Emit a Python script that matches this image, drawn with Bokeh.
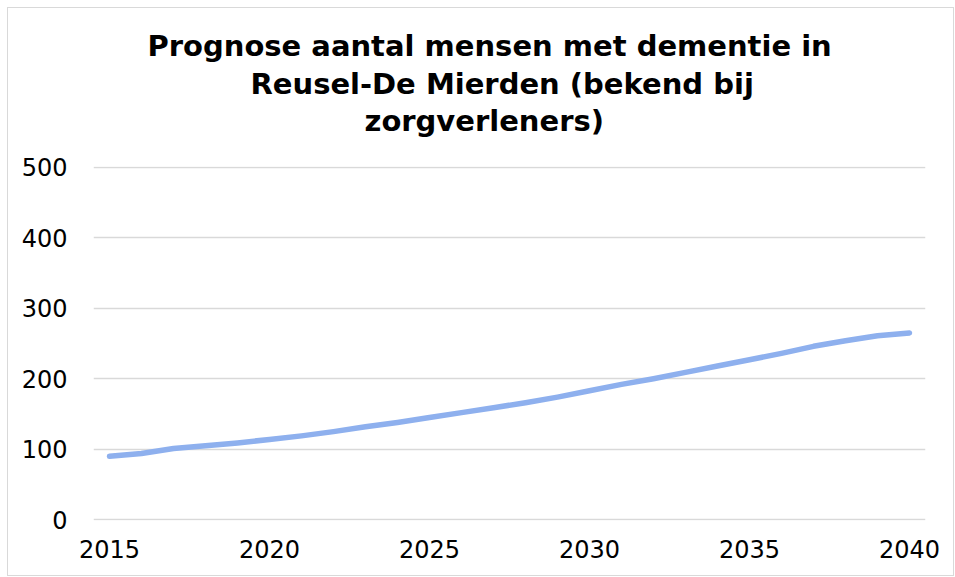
from bokeh.plotting import figure
from bokeh.models import Range1d, FixedTicker, Title, ColumnDataSource
from bokeh.embed import file_html
from bokeh.resources import INLINE

# Data
years = list(range(2015, 2041))
dementia = [90, 94, 101, 105, 109, 114, 119, 125, 132, 138,
            145, 152, 159, 166, 174, 183, 192, 200, 209, 218,
            227, 236, 246, 254, 261, 265]
x_ticks = [2015, 2020, 2025, 2030, 2035, 2040]
y_ticks = [0, 100, 200, 300, 400, 500]
title_lines = ["Prognose aantal mensen met dementie in",
               "Reusel-De Mierden (bekend bij",
               "zorgverleners)"]

source = ColumnDataSource(dict(year=years, value=dementia))

p = figure(width=945, height=567, frame_width=832, frame_height=354,
           min_border_left=85, min_border_right=28, min_border_top=158, min_border_bottom=55,
           x_range=Range1d(2014.5, 2040.5), y_range=Range1d(-1, 501),
           output_backend="svg", toolbar_location=None)
p.styles = {"border": "1px solid #d9d9d9", "margin-left": "7px", "margin-top": "7px"}

p.line("year", "value", source=source, line_color="#8eb0ee", line_width=5.5,
       line_cap="round", line_join="round")

p.outline_line_color = None
p.xgrid.grid_line_color = None
p.ygrid.grid_line_color = "#d9d9d9"
p.ygrid.grid_line_width = 1.5

for ax in (p.xaxis[0], p.yaxis[0]):
    ax.axis_line_color = None
    ax.major_tick_line_color = None
    ax.minor_tick_line_color = None
    ax.major_label_text_font = "DejaVu Sans"
    ax.major_label_text_font_size = "24px"
    ax.major_label_text_color = "#000000"

p.xaxis.ticker = FixedTicker(ticks=x_ticks)
p.yaxis.ticker = FixedTicker(ticks=y_ticks)
p.xaxis.major_label_standoff = 13
p.yaxis.major_label_standoff = 20

# spacer between title block and plot area
p.add_layout(Title(text=" ", text_font_size="24px", standoff=0), "above")

# title lines: added bottom line first (closest to the frame)
offsets = [54, 157, 271]
standoffs = [2, 2, 0]
for txt, off, so in reversed(list(zip(title_lines, offsets, standoffs))):
    p.add_layout(Title(text=txt, align="left", offset=off,
                       text_font="DejaVu Sans", text_font_style="bold",
                       text_font_size="29px", text_color="#000000",
                       standoff=so), "above")

open("out.html", "w").write(file_html(p, INLINE))
